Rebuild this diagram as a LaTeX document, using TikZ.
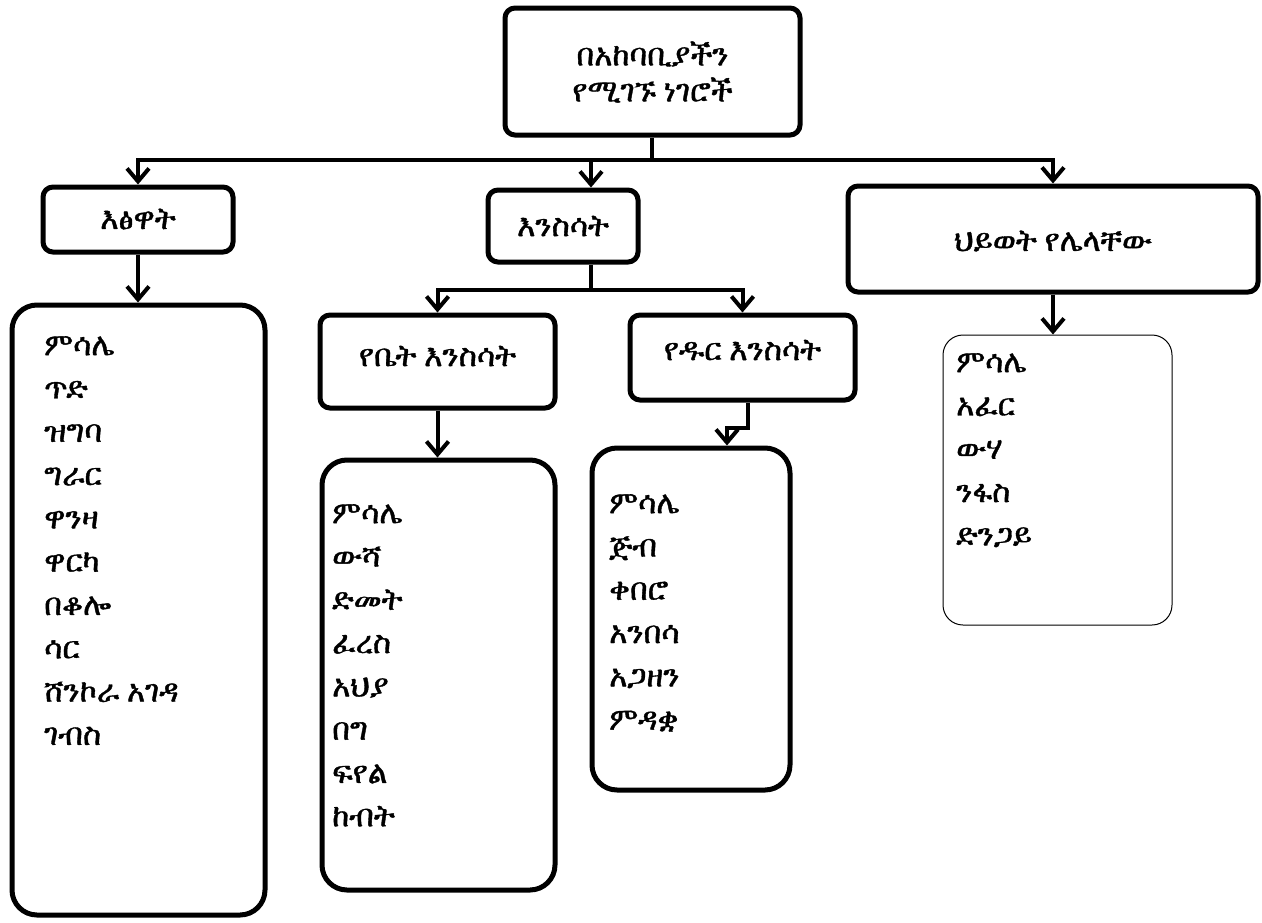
\documentclass[tikz,border=0pt]{standalone}
\usepackage{fontspec}
\usetikzlibrary{arrows.meta}
\IfFontExistsTF{FreeSerif}{\newfontfamily\eth[Script=Ethiopic,FakeBold=1.2]{FreeSerif}}{%
 \IfFontExistsTF{Abyssinica SIL}{\newfontfamily\eth[Script=Ethiopic]{Abyssinica SIL}}{%
  \newfontfamily\eth[Script=Ethiopic]{Noto Sans Ethiopic}}}
\tikzset{
  box/.style={draw, line width=5pt, rounded corners=10pt, inner sep=0pt},
  listbox/.style={draw, line width=5pt, rounded corners=25pt, inner sep=0pt},
  thinbox/.style={draw, line width=1pt, rounded corners=20pt, inner sep=0pt},
  lbl/.style={font=\eth\fontsize{31}{36}\selectfont, align=center, inner sep=0pt},
  listtxt/.style={font=\eth\fontsize{31}{43.3}\selectfont, align=left, inner sep=0pt, anchor=north west},
  conn/.style={line width=4pt},
  arr/.style={line width=4pt, -{Straight Barb[length=13pt,width=22pt,line width=4pt]}}
}
\begin{document}
\begin{tikzpicture}[x=1pt,y=-1pt]
\useasboundingbox (0,0) rectangle (1262,922);
% boxes
\node[box, minimum width=295, minimum height=127] (top) at (652.5,71.5) {};
\node[lbl] (toptxt) at (652.5,72) {በአከባቢያችን\\የሚገኙ ነገሮች};
\node[box, minimum width=190, minimum height=65] (plants) at (138,219.5) {};
\node[lbl] (plantstxt) at (138,219) {እፅዋት};
\node[box, minimum width=150, minimum height=72] (animals) at (563,226) {};
\node[lbl] (animalstxt) at (563,226) {እንስሳት};
\node[box, minimum width=410, minimum height=106] (nonliving) at (1053,239) {};
\node[lbl] (nonlivingtxt) at (1053,241) {ህይወት የሌላቸው};
\node[box, minimum width=235, minimum height=93] (domestic) at (437.5,361.5) {};
\node[lbl] (domestictxt) at (437.5,356) {የቤት እንስሳት};
\node[box, minimum width=225, minimum height=85] (wild) at (742.5,357.5) {};
\node[lbl] (wildtxt) at (742.5,350) {የዱር እንስሳት};
% list boxes
\node[listbox, minimum width=253, minimum height=610] (plist) at (138.5,610) {};
\node[listbox, minimum width=233, minimum height=430] (dlist) at (438.5,675) {};
\node[listbox, minimum width=198, minimum height=342] (wlist) at (691,619) {};
\node[thinbox, minimum width=229, minimum height=290] (nlist) at (1057.5,480) {};
% list texts
\node[listtxt] (ptxt) at (44,336) {ምሳሌ\\ጥድ\\ዝግባ\\ግራር\\ዋንዛ\\ዋርካ\\በቆሎ\\ሳር\\ሸንኮራ አገዳ\\ገብስ};
\node[listtxt] (dtxt) at (332,504) {ምሳሌ\\ውሻ\\ድመት\\ፈረስ\\አህያ\\በግ\\ፍየል\\ከብት};
\node[listtxt] (wtxt) at (609,494) {ምሳሌ\\ጅብ\\ቀበሮ\\አንበሳ\\አጋዘን\\ምዳቋ};
\node[listtxt] (ntxt) at (956,353) {ምሳሌ\\አፈር\\ውሃ\\ንፋስ\\ድንጋይ};
% connectors
\coordinate (b1) at (652,160);
\coordinate (a1) at (591,160);
\coordinate (a2) at (591,290);
\coordinate (w1) at (748,428);
\coordinate (w2) at (727,428);
\draw[conn] (top.south -| b1) -- (b1);
\draw[arr] (b1) -| (plants.north);
\draw[arr] (b1) -| (nonliving.north);
\draw[arr] (a1) -- (a1 |- animals.north);
\draw[conn] (a1 |- animals.south) -- (a2);
\draw[arr] (a2) -| (domestic.north);
\draw[arr] (a2) -| (wild.north);
\draw[arr] (plants.south) -- (plants.south |- plist.north);
\draw[arr] (domestic.south) -- (domestic.south |- dlist.north);
\draw[arr] (w1 |- wild.south) -- (w1) -- (w2) -- (w2 |- wlist.north);
\draw[arr] (nonliving.south) -- (nonliving.south |- nlist.north);
\end{tikzpicture}
\end{document}
